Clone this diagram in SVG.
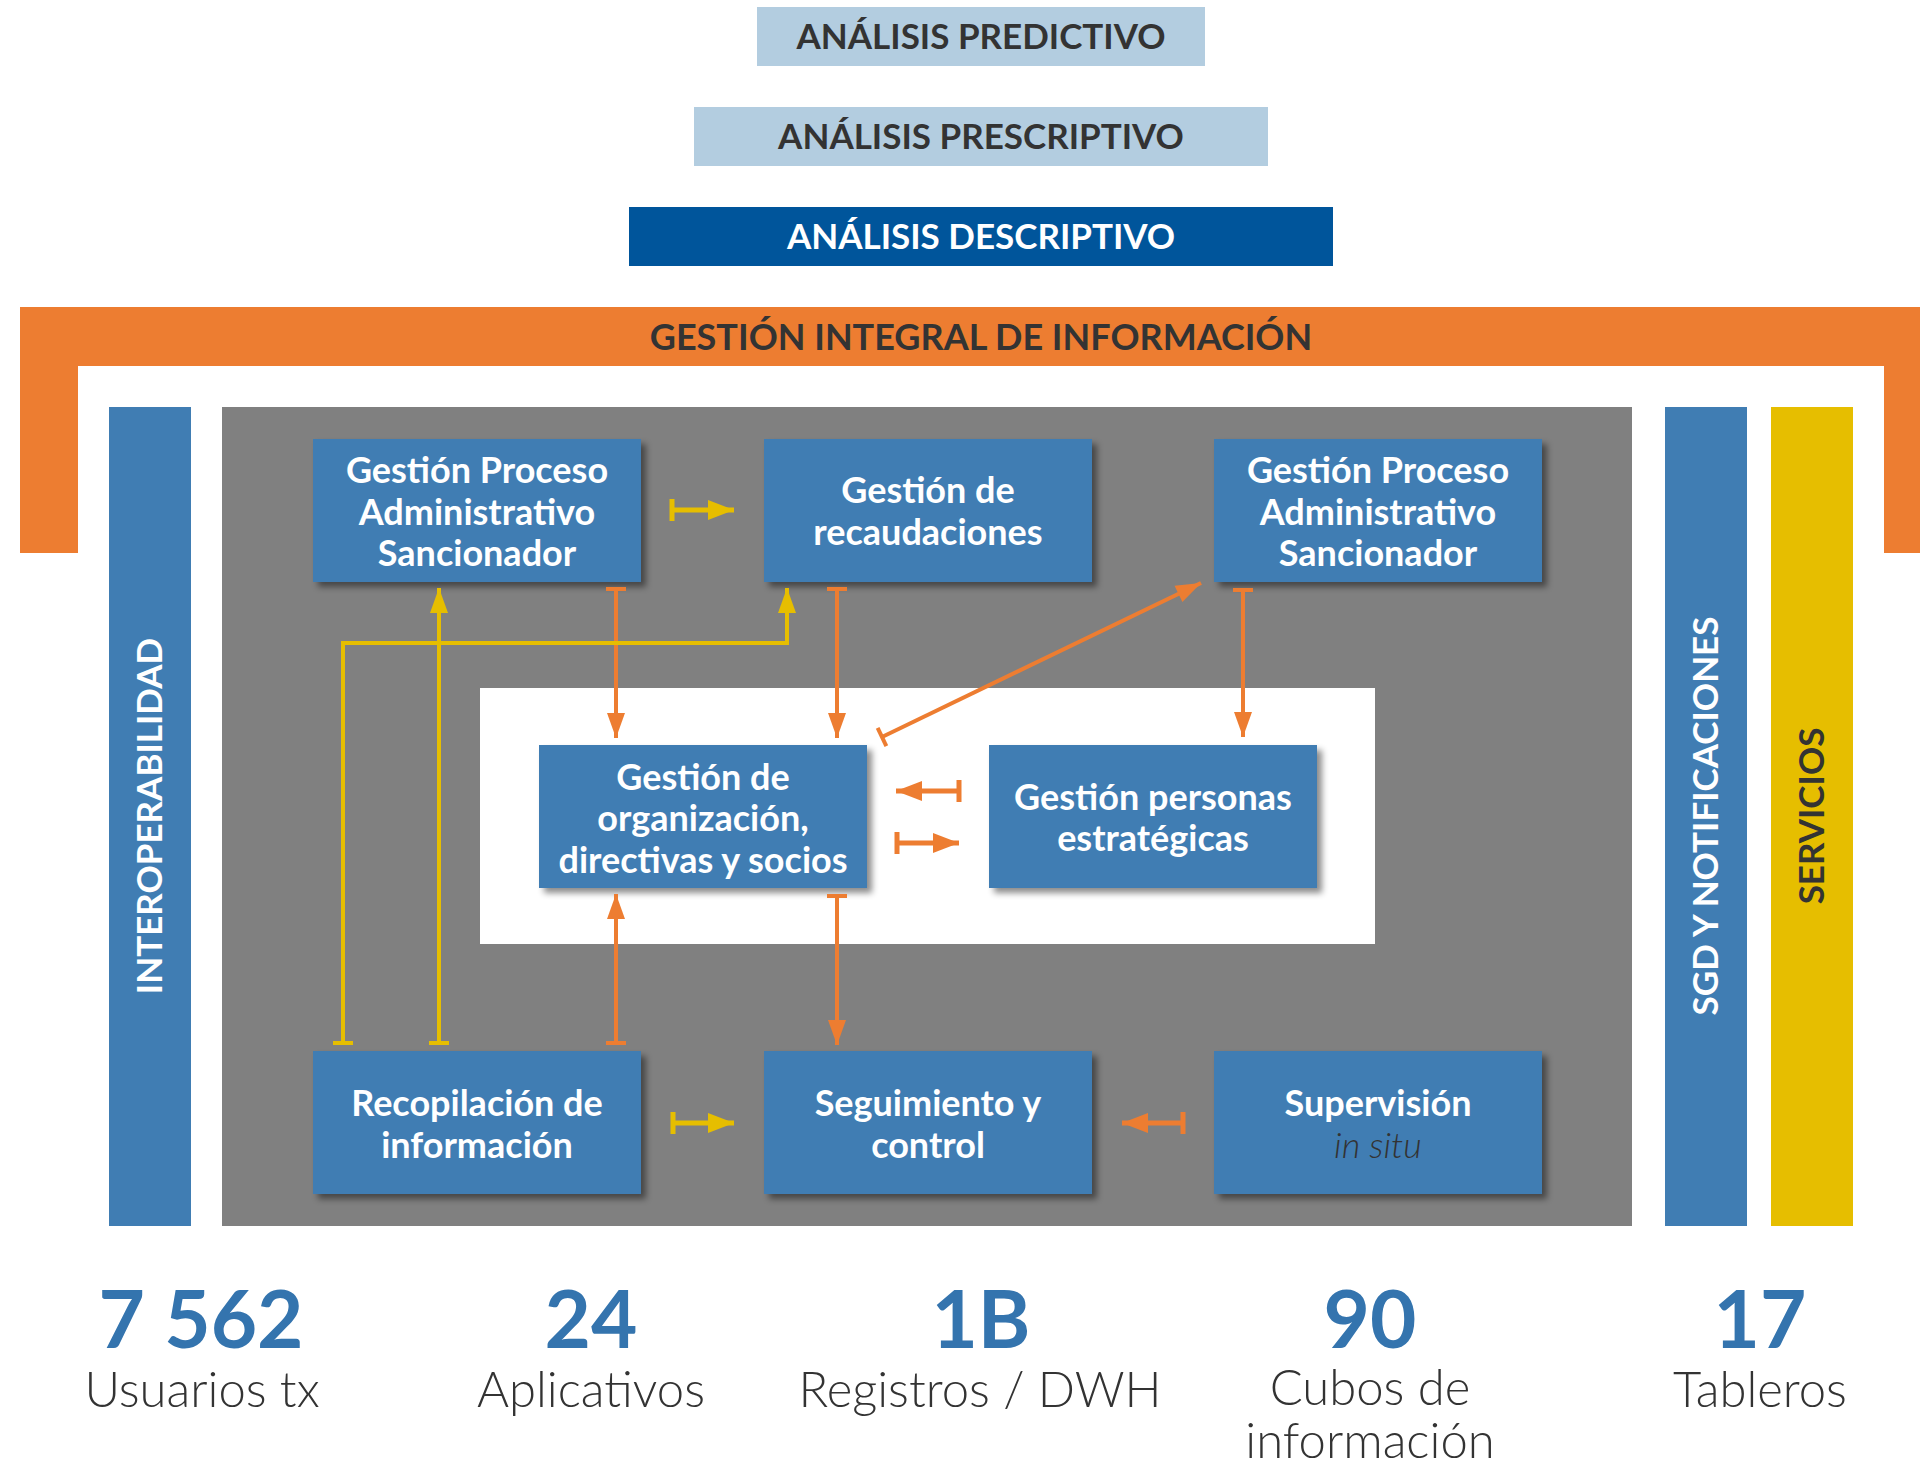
<svg xmlns="http://www.w3.org/2000/svg" width="1920" height="1470" viewBox="0 0 1920 1470">
<defs>
<style>
.banner{font-family:Lato,"Open Sans","Liberation Sans",sans-serif;font-weight:700;font-size:35px;text-anchor:middle;fill:#333333}
.node rect.box{fill:#407DB3;filter:url(#sh)}
.nt{font-family:Lato,"Open Sans","Liberation Sans",sans-serif;font-weight:700;font-size:36px;text-anchor:middle;fill:#ffffff}
.it{font-family:Lato,"Open Sans","Liberation Sans",sans-serif;font-weight:300;font-style:italic;font-size:36px;text-anchor:middle;fill:#333333}
.vt{font-family:Lato,"Open Sans","Liberation Sans",sans-serif;font-weight:700;font-size:35px;text-anchor:middle}
.num{font-family:Lato,"Open Sans","Liberation Sans",sans-serif;font-weight:700;font-size:80px;text-anchor:middle;fill:#3474AE}
.lbl{font-family:Lato,"Open Sans","Liberation Sans",sans-serif;font-weight:300;font-size:49px;text-anchor:middle;fill:#333333}
.co{fill:none;stroke:#ED7D31;stroke-width:4}
.cy{fill:none;stroke:#E6BE00;stroke-width:4}
.so{fill:none;stroke:#ED7D31;stroke-width:5}
.sy{fill:none;stroke:#E6BE00;stroke-width:5}
</style>
<filter id="sh" x="-10%" y="-10%" width="130%" height="130%">
<feDropShadow dx="5" dy="5" stdDeviation="3" flood-color="#000" flood-opacity="0.45"/>
</filter>
<marker id="ao" markerUnits="userSpaceOnUse" orient="auto" overflow="visible" markerWidth="30" markerHeight="20" refX="0" refY="0"><path d="M-25,-9 L0,0 L-25,9 Z" fill="#ED7D31"/></marker>
<marker id="ay" markerUnits="userSpaceOnUse" orient="auto" overflow="visible" markerWidth="30" markerHeight="20" refX="0" refY="0"><path d="M-25,-9 L0,0 L-25,9 Z" fill="#E6BE00"/></marker>
<marker id="to" markerUnits="userSpaceOnUse" orient="auto" overflow="visible" markerWidth="10" markerHeight="24" refX="0" refY="0"><path d="M0,-10 L0,10" stroke="#ED7D31" stroke-width="4"/></marker>
<marker id="ty" markerUnits="userSpaceOnUse" orient="auto" overflow="visible" markerWidth="10" markerHeight="24" refX="0" refY="0"><path d="M0,-10 L0,10" stroke="#E6BE00" stroke-width="4"/></marker>
<marker id="bo" markerUnits="userSpaceOnUse" orient="auto" overflow="visible" markerWidth="30" markerHeight="24" refX="0" refY="0"><path d="M-26,-10 L0,0 L-26,10 Z" fill="#ED7D31"/></marker>
<marker id="by" markerUnits="userSpaceOnUse" orient="auto" overflow="visible" markerWidth="30" markerHeight="24" refX="0" refY="0"><path d="M-26,-10 L0,0 L-26,10 Z" fill="#E6BE00"/></marker>
<marker id="uo" markerUnits="userSpaceOnUse" orient="auto" overflow="visible" markerWidth="10" markerHeight="26" refX="0" refY="0"><path d="M0,-11 L0,11" stroke="#ED7D31" stroke-width="5"/></marker>
<marker id="uy" markerUnits="userSpaceOnUse" orient="auto" overflow="visible" markerWidth="10" markerHeight="26" refX="0" refY="0"><path d="M0,-11 L0,11" stroke="#E6BE00" stroke-width="5"/></marker>
</defs>
<rect x="0" y="0" width="1920" height="1470" fill="#ffffff"/>

<g id="analisis-predictivo">
<rect x="757" y="7" width="448" height="59" fill="#B3CDE0"/>
<text class="banner" x="981" y="49">ANÁLISIS PREDICTIVO</text>
</g>
<g id="analisis-prescriptivo">
<rect x="694" y="107" width="574" height="59" fill="#B3CDE0"/>
<text class="banner" x="981" y="149">ANÁLISIS PRESCRIPTIVO</text>
</g>
<g id="analisis-descriptivo">
<rect x="629" y="207" width="704" height="59" fill="#00559B"/>
<text class="banner" x="981" y="249" style="fill:#ffffff">ANÁLISIS DESCRIPTIVO</text>
</g>

<g id="gestion-integral">
<path d="M20,307 H1920 V553 H1884 V366 H78 V553 H20 Z" fill="#ED7D31"/>
<text class="banner" x="981" y="350" style="font-size:36px">GESTIÓN INTEGRAL DE INFORMACIÓN</text>
</g>

<g id="interoperabilidad">
<rect x="109" y="407" width="82" height="819" fill="#407DB3"/>
<text class="vt" transform="translate(162,816) rotate(-90)" fill="#ffffff">INTEROPERABILIDAD</text>
</g>
<g id="sgd">
<rect x="1665" y="407" width="82" height="819" fill="#407DB3"/>
<text class="vt" transform="translate(1718,816) rotate(-90)" fill="#ffffff">SGD Y NOTIFICACIONES</text>
</g>
<g id="servicios">
<rect x="1771" y="407" width="82" height="819" fill="#E6BE00"/>
<text class="vt" transform="translate(1824,816) rotate(-90)" fill="#333333">SERVICIOS</text>
</g>

<g id="panel">
<rect x="222" y="407" width="1410" height="819" fill="#808080"/>
<rect x="480" y="688" width="895" height="256" fill="#ffffff"/>
</g>

<g id="n-pas1" class="node">
<rect class="box" x="313" y="439" width="328" height="143"/>
<text class="nt" x="477" y="483">Gestión Proceso</text>
<text class="nt" x="477" y="525">Administrativo</text>
<text class="nt" x="477" y="566">Sancionador</text>
</g>
<g id="n-recaudaciones" class="node">
<rect class="box" x="764" y="439" width="328" height="143"/>
<text class="nt" x="928" y="503">Gestión de</text>
<text class="nt" x="928" y="545">recaudaciones</text>
</g>
<g id="n-pas2" class="node">
<rect class="box" x="1214" y="439" width="328" height="143"/>
<text class="nt" x="1378" y="483">Gestión Proceso</text>
<text class="nt" x="1378" y="525">Administrativo</text>
<text class="nt" x="1378" y="566">Sancionador</text>
</g>
<g id="n-organizacion" class="node">
<rect class="box" x="539" y="745" width="328" height="143"/>
<text class="nt" x="703" y="790">Gestión de</text>
<text class="nt" x="703" y="831">organización,</text>
<text class="nt" x="703" y="873">directivas y socios</text>
</g>
<g id="n-personas" class="node">
<rect class="box" x="989" y="745" width="328" height="143"/>
<text class="nt" x="1153" y="810">Gestión personas</text>
<text class="nt" x="1153" y="851">estratégicas</text>
</g>
<g id="n-recopilacion" class="node">
<rect class="box" x="313" y="1051" width="328" height="143"/>
<text class="nt" x="477" y="1116">Recopilación de</text>
<text class="nt" x="477" y="1158">información</text>
</g>
<g id="n-seguimiento" class="node">
<rect class="box" x="764" y="1051" width="328" height="143"/>
<text class="nt" x="928" y="1116">Seguimiento y</text>
<text class="nt" x="928" y="1158">control</text>
</g>
<g id="n-supervision" class="node">
<rect class="box" x="1214" y="1051" width="328" height="143"/>
<text class="nt" x="1378" y="1116">Supervisión</text>
<text class="it" x="1378" y="1158">in situ</text>
</g>

<g id="connectors">
<path class="sy" d="M672,510 H734" marker-start="url(#uy)" marker-end="url(#by)"/>
<path class="sy" d="M673,1123 H734" marker-start="url(#uy)" marker-end="url(#by)"/>
<path class="so" d="M1183,1123 H1122" marker-start="url(#uo)" marker-end="url(#bo)"/>
<path class="so" d="M959,791 H896" marker-start="url(#uo)" marker-end="url(#bo)"/>
<path class="so" d="M897,843 H959" marker-start="url(#uo)" marker-end="url(#bo)"/>
<path class="co" d="M616,589 V738" marker-start="url(#to)" marker-end="url(#ao)"/>
<path class="co" d="M837,589 V738" marker-start="url(#to)" marker-end="url(#ao)"/>
<path class="co" d="M1243,590 V737" marker-start="url(#to)" marker-end="url(#ao)"/>
<path class="co" d="M882,737 L1201,583" marker-start="url(#to)" marker-end="url(#ao)"/>
<path class="co" d="M616,1043 V894" marker-start="url(#to)" marker-end="url(#ao)"/>
<path class="co" d="M837,896 V1045" marker-start="url(#to)" marker-end="url(#ao)"/>
<path class="cy" d="M439,1043 V588" marker-start="url(#ty)" marker-end="url(#ay)"/>
<path class="cy" d="M343,1043 V643 H787 V588" marker-start="url(#ty)" marker-end="url(#ay)"/>
</g>

<g id="stats">
<text class="num" x="201" y="1348">7 562</text>
<text class="lbl" x="202" y="1407">Usuarios tx</text>
<text class="num" x="591" y="1348">24</text>
<text class="lbl" x="591" y="1407">Aplicativos</text>
<text class="num" x="981" y="1348">1B</text>
<text class="lbl" x="980" y="1407">Registros / DWH</text>
<text class="num" x="1370" y="1348">90</text>
<text class="lbl" x="1370" y="1405">Cubos de</text>
<text class="lbl" x="1370" y="1458">información</text>
<text class="num" x="1760" y="1348">17</text>
<text class="lbl" x="1760" y="1407">Tableros</text>
</g>
</svg>
